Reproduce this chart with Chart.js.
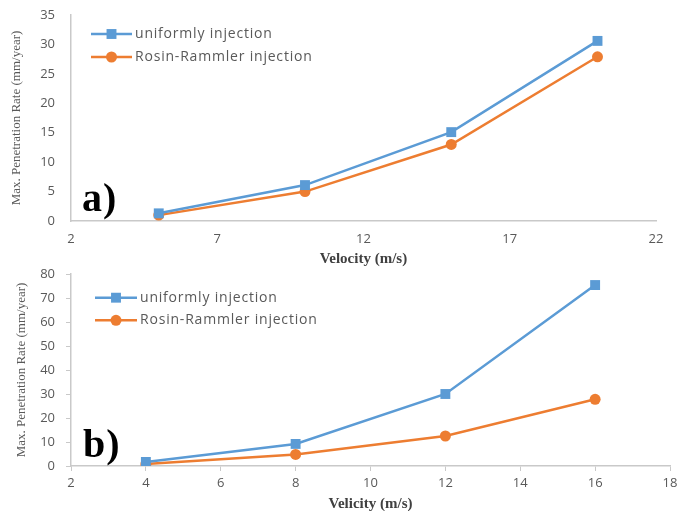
<!DOCTYPE html>
<html>
<head>
<meta charset="utf-8">
<script src="https://cdn.jsdelivr.net/npm/chart.js@4.4.1/dist/chart.umd.min.js"></script>
<style>
html, body { margin: 0; padding: 0; background: #fff; }
body { width: 677px; height: 511px; position: relative; overflow: hidden; }
.box { position: absolute; left: 0; width: 677px; }
#topBox { top: 0; height: 268px; }
#botBox { top: 255px; height: 258px; }
.tag { position: absolute; font-family: "Liberation Serif", serif; font-weight: bold; font-size: 40px; color: #000; line-height: 1; }
</style>
</head>
<body>
<div class="box" id="topBox"><canvas id="chartA"></canvas></div>
<div class="box" id="botBox"><canvas id="chartB"></canvas></div>
<div class="tag" style="left:82px; top:178px; letter-spacing:1px;">a)</div>
<div class="tag" style="left:83px; top:424px; letter-spacing:1px;">b)</div>
<script>
// series names
const seriesNames = ['uniformly injection', 'Rosin-Rammler injection'];

// chart a)
const velA = [5, 10, 15, 20];
const uniformA = [1.3, 6.1, 15.1, 30.6];
const rosinA = [1.0, 5.0, 13.0, 27.9];
const xTicksA = [2, 7, 12, 17, 22];
const yTicksA = [0, 5, 10, 15, 20, 25, 30, 35];

// chart b)
const velB = [4, 8, 12, 16];
const uniformB = [1.7, 9.2, 30.0, 75.4];
const rosinB = [0.8, 4.8, 12.5, 27.8];
const xTicksB = [2, 4, 6, 8, 10, 12, 14, 16, 18];
const yTicksB = [0, 10, 20, 30, 40, 50, 60, 70, 80];

const blue = '#5B9BD5';
const orange = '#ED7D31';
const axisGray = '#c9c9c9';
const textGray = '#595959';

// draws the legend inside the plot, like the original
const insideLegend = {
    id: 'insideLegend',
    afterDraw(chart, args, opts) {
        const ctx = chart.ctx;
        ctx.save();
        chart.data.datasets.forEach((ds, i) => {
            const y = opts.y + i * opts.rowGap;
            const x0 = opts.x;
            const x1 = opts.x + opts.lineLen;
            ctx.strokeStyle = ds.borderColor;
            ctx.lineWidth = ds.borderWidth;
            ctx.beginPath();
            ctx.moveTo(x0, y);
            ctx.lineTo(x1, y);
            ctx.stroke();
            ctx.fillStyle = ds.backgroundColor;
            Chart.helpers.drawPoint(ctx, { pointStyle: ds.pointStyle, radius: ds.pointRadius, borderWidth: 0, rotation: 0 }, (x0 + x1) / 2, y);
            ctx.font = '14px "Open Sans"';
            ctx.letterSpacing = '0.8px';
            ctx.fillStyle = textGray;
            ctx.textBaseline = 'middle';
            ctx.textAlign = 'left';
            ctx.fillText(ds.label, x1 + 3, y);
        });
        ctx.restore();
    }
};

function toPoints(xs, ys) {
    return xs.map((x, i) => ({ x: x, y: ys[i] }));
}

function makeDatasets(xs, ys1, ys2) {
    return [{
        label: seriesNames[0],
        data: toPoints(xs, ys1),
        borderColor: blue,
        backgroundColor: blue,
        borderWidth: 2.5,
        pointStyle: 'rect',
        pointRadius: 7,
        pointBorderWidth: 0
    }, {
        label: seriesNames[1],
        data: toPoints(xs, ys2),
        borderColor: orange,
        backgroundColor: orange,
        borderWidth: 2.5,
        pointStyle: 'circle',
        pointRadius: 5.5,
        pointBorderWidth: 0
    }];
}

function makeChart(id, xs, ys1, ys2, cfg) {
    const ctx = document.getElementById(id).getContext('2d');
    return new Chart(ctx, {
        type: 'line',
        data: { datasets: makeDatasets(xs, ys1, ys2) },
        plugins: [insideLegend],
        options: {
            responsive: true,
            maintainAspectRatio: false,
            animation: false,
            devicePixelRatio: 1,
            layout: { padding: cfg.padding },
            plugins: {
                legend: { display: false },
                tooltip: { enabled: false },
                insideLegend: cfg.legend
            },
            scales: {
                x: {
                    type: 'linear',
                    min: cfg.xTicks[0],
                    max: cfg.xTicks[cfg.xTicks.length - 1],
                    afterBuildTicks: (s) => { s.ticks = cfg.xTicks.map(v => ({ value: v })); },
                    ticks: {
                        color: textGray,
                        font: { family: 'Open Sans', size: 13 },
                        padding: cfg.xTickPad,
                        maxRotation: 0,
                        autoSkip: false
                    },
                    grid: {
                        display: cfg.tickMarks,
                        drawOnChartArea: false,
                        drawTicks: cfg.tickMarks,
                        tickLength: 5,
                        color: axisGray
                    },
                    border: { display: true, color: axisGray, width: 1.5 },
                    title: {
                        display: true,
                        text: cfg.xTitle,
                        color: '#404040',
                        font: { family: 'Liberation Serif', weight: 'bold', size: 15 },
                        padding: 0
                    },
                    afterFit: (s) => {
                        s.height = 47;
                        s.paddingLeft = 0;
                        s.paddingRight = 0;
                    }
                },
                y: {
                    min: cfg.yTicks[0],
                    max: cfg.yTicks[cfg.yTicks.length - 1],
                    afterBuildTicks: (s) => { s.ticks = cfg.yTicks.map(v => ({ value: v })); },
                    ticks: {
                        color: textGray,
                        font: { family: 'Open Sans', size: 13 },
                        padding: cfg.yTickPad
                    },
                    grid: {
                        display: cfg.tickMarks,
                        drawOnChartArea: false,
                        drawTicks: cfg.tickMarks,
                        tickLength: 5,
                        color: axisGray
                    },
                    border: { display: true, color: axisGray, width: 1.5 },
                    title: {
                        display: true,
                        text: 'Max. Penetration Rate (mm/year)',
                        color: textGray,
                        font: { family: 'Liberation Serif', size: 13 },
                        padding: { top: cfg.yTitlePad, bottom: 0 }
                    },
                    afterFit: (s) => {
                        s.width = 71;
                        s.paddingTop = 0;
                        s.paddingBottom = 0;
                    }
                }
            }
        }
    });
}

makeChart('chartA', velA, uniformA, rosinA, {
    padding: { top: 15, right: 21, left: 0, bottom: 0 },
    xTicks: xTicksA,
    yTicks: yTicksA,
    xTitle: 'Velocity (m/s)',
    tickMarks: false,
    xTickPad: 10,
    yTickPad: 16,
    yTitlePad: 9,
    legend: { x: 91, y: 34, rowGap: 23, lineLen: 41 }
});

makeChart('chartB', velB, uniformB, rosinB, {
    padding: { top: 19, right: 5, left: 0, bottom: 0 },
    xTicks: xTicksB,
    yTicks: yTicksB,
    xTitle: 'Velicity (m/s)',
    tickMarks: true,
    xTickPad: 4,
    yTickPad: 11,
    yTitlePad: 14,
    legend: { x: 95, y: 42.7, rowGap: 22.6, lineLen: 42 }
});
</script>
</body>
</html>
